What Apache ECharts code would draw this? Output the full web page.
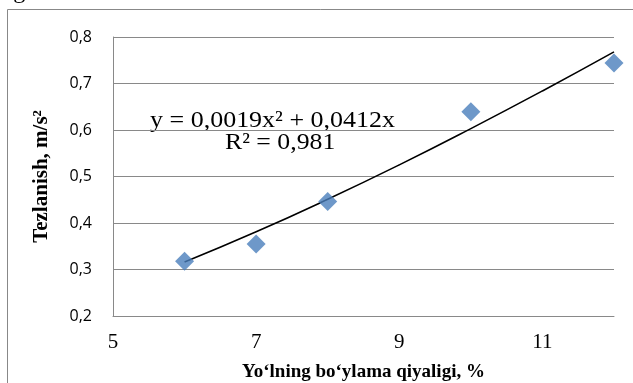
<!DOCTYPE html>
<html><head><meta charset="utf-8">
<script src="https://cdn.jsdelivr.net/npm/echarts@6/dist/echarts.min.js"></script>
<style>html,body{margin:0;padding:0;background:#fff}#c{width:633px;height:383px}</style>
</head><body><div id="c"></div>
<script>
const xTicks = [5, 7, 9, 11];
const yTicks = ['0,2','0,3','0,4','0,5','0,6','0,7','0,8'];
const slopes = [6, 7, 8, 10, 12];
const accel = [0.318, 0.355, 0.446, 0.639, 0.744];
const trendX = [6, 7, 8, 9, 10, 11, 12];
const trendY = [0.316, 0.381, 0.451, 0.525, 0.603, 0.684, 0.768];
const equation = 'y = 0,0019x² + 0,0412x';
const rSquared = 'R² = 0,981';

const chart = echarts.init(document.getElementById('c'));
chart.setOption({
  animation: false,
  grid: {left: 113, right: 19, top: 37, bottom: 67, outerBoundsMode: 'none', containLabel: false},
  xAxis: {
    type: 'value', min: 5, max: 12, interval: 2,
    name: 'Yo‘lning bo‘ylama qiyaligi, %', nameLocation: 'middle', nameGap: 47,
    nameTextStyle: {fontFamily: 'Liberation Serif', fontWeight: 'bold', fontSize: 19, color: '#000'},
    axisLine: {show: true, lineStyle: {color: '#898989'}},
    axisTick: {show: false},
    splitLine: {show: false},
    axisLabel: {showMaxLabel: false, fontFamily: 'Liberation Serif', fontSize: 21, color: '#000', margin: 16,
      formatter: v => xTicks.includes(v) ? String(v) : ''}
  },
  yAxis: {
    type: 'value', min: 0.2, max: 0.8, interval: 0.1,
    name: 'Tezlanish, m/s²', nameLocation: 'middle', nameGap: 61,
    nameTextStyle: {fontFamily: 'Liberation Serif', fontWeight: 'bold', fontSize: 21, color: '#000'},
    axisLine: {show: true, lineStyle: {color: '#898989'}},
    axisTick: {show: false},
    splitLine: {lineStyle: {color: '#898989'}},
    axisLabel: {fontFamily: 'Open Sans', fontSize: 16, color: '#000', margin: 21,
      formatter: v => yTicks[Math.round((v - 0.2) * 10)]}
  },
  series: [
    {type: 'line', data: trendX.map((x, i) => [x, trendY[i]]), smooth: true, showSymbol: false,
     lineStyle: {color: '#000', width: 1.6}, z: 3},
    {type: 'scatter', data: slopes.map((x, i) => [x, accel[i]]), symbol: 'diamond', symbolSize: 19,
     itemStyle: {color: '#4a7ebb'}, z: 4}
  ],
  graphic: [
    {type: 'rect', shape: {x: 7.5, y: 9.5, width: 700, height: 400}, style: {fill: 'none', stroke: '#888', lineWidth: 1}, silent: true},
    {type: 'text', x: 0, y: -20, style: {text: 'ligan.', font: '24px "Liberation Serif"', fill: '#000'}},
    {type: 'text', x: 150, y: 121, scaleX: 1.13, style: {text: equation, font: '23px "Liberation Serif"', fill: '#000', verticalAlign: 'middle'}},
    {type: 'text', x: 225, y: 143, scaleX: 1.12, style: {text: rSquared, font: '23px "Liberation Serif"', fill: '#000', verticalAlign: 'middle'}}
  ]
});
</script></body></html>
